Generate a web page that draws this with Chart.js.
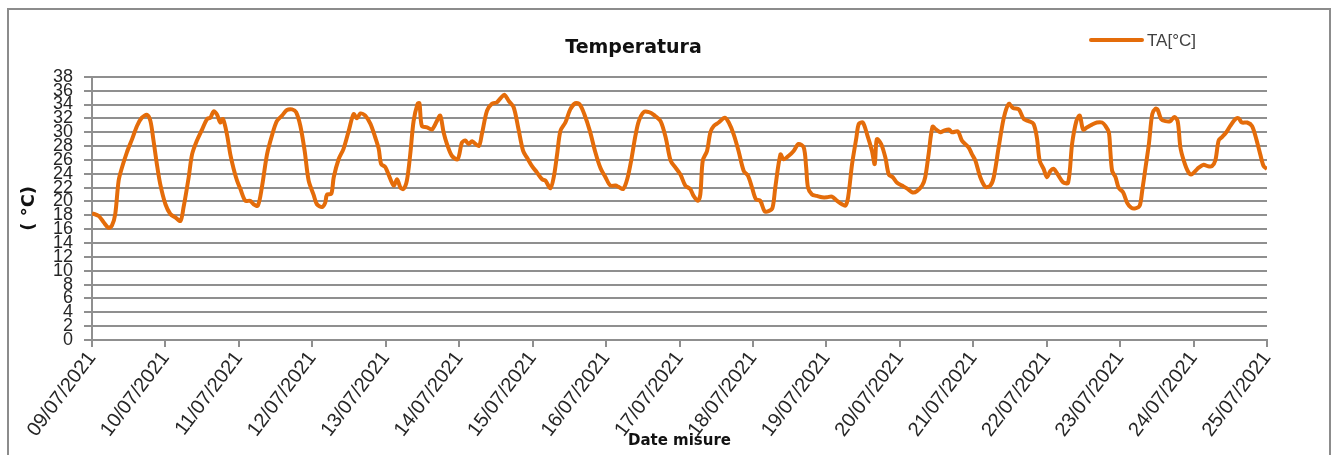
<!DOCTYPE html>
<html>
<head>
<meta charset="utf-8">
<script src="https://cdn.jsdelivr.net/npm/chart.js@4.4.1/dist/chart.umd.min.js"></script>
<style>
html,body{margin:0;padding:0;background:#fff;overflow:hidden}
#wrap{position:relative;width:1343px;height:455px}
</style>
</head>
<body>
<div id="wrap"><canvas id="c" width="1343" height="455"></canvas></div>
<script>
// Date tick labels (one per day, every 24 h)
const dateLabels = ['09/07/2021','10/07/2021','11/07/2021','12/07/2021','13/07/2021','14/07/2021','15/07/2021','16/07/2021','17/07/2021','18/07/2021','19/07/2021','20/07/2021','21/07/2021','22/07/2021','23/07/2021','24/07/2021','25/07/2021'];

// Time of each reading, hours since 09/07/2021 00:00
const hours = [
0,2.2,3.8,5.4,6.5,7.6,8.7,9.8,11.4,13.1,14.7,16.3,18.0,19.1,20.1,21.2,22.3,24.0,25.6,27.2,28.9,29.9,31.6,32.7,34.3,36.0,37.6,38.7,39.7,40.8,41.9,42.8,44.1,45.2,46.3,47.4,48.5,50.1,51.7,52.8,54.2,55.5,57.2,58.8,60.4,62.1,63.7,65.4,66.7,68.1,69.5,70.8,72.4,73.5,75.2,76.2,76.8,78.2,79.0,80.6,82.2,83.9,85.5,86.6,87.7,89.3,91.0,92.6,93.7,
94.5,95.8,96.9,98.6,99.7,100.8,101.8,102.9,104.0,105.1,106.4,107.0,107.8,109.5,111.1,112.7,113.8,114.9,116.0,117.6,119.5,120.9,122.0,123.1,124.2,126.4,127.4,129.1,130.7,132.3,133.7,134.8,136.2,137.8,139.4,140.9,142.2,143.8,145.4,147.1,148.2,149.8,150.9,152.0,153.1,154.7,156.3,158.0,159.4,160.9,162.7,164.5,166.1,167.8,169.4,171.1,172.1,173.6,174.9,176.2,177.6,178.7,180.3,182.0,183.6,185.8,187.5,189.1,190.7,
192.3,193.9,195.5,196.6,198.0,198.8,199.6,201.0,202.1,203.2,204.8,206.8,208.1,209.7,211.3,213.0,214.4,215.7,217.0,218.4,219.8,221.1,222.4,223.3,225.0,226.0,227.7,229.3,230.9,232.6,233.4,234.0,235.3,236.9,238.6,240.2,241.8,243.5,245.1,246.2,247.1,248.4,249.8,250.6,251.9,253.3,254.9,255.8,256.5,257.9,259.3,260.4,261.7,263.1,264.7,266.3,268.2,269.6,271.3,272.3,273.4,274.7,275.8,277.3,278.3,280.0,281.1,283.0,284.3,286.5,287.6,
288.7,290.3,292.0,293.6,294.7,296.3,298.0,299.6,301.0,302.9,304.5,306.1,307.7,308.8,309.7,311.0,312.1,313.2,314.3,315.6,317.3,319.0,320.3,321.7,322.8,323.9,325.2,326.8,328.4,330.1,331.2,332.3,332.8,333.4,334.5,335.5,337.0,338.3,339.6,341.0,342.4,343.2,344.3,345.4,346.5,347.6,348.3,349.4,350.8,352.4,353.7,354.8,355.7,356.8,358.1,359.2,360.6,361.7,363.3,364.6,366.0,367.1,368.2,369.3,370.7,372.0,373.7,374.7,375.8,377.5,379.1,380.5,381.8,382.9,384.0
];

// Air temperature TA [°C]
const temps = [
18.3,17.9,17.0,16.2,16.5,18.2,23.0,24.9,27.1,29.0,30.9,32.1,32.5,31.6,28.8,25.4,22.5,19.6,18.2,17.7,17.2,19.1,23.5,26.8,28.8,30.4,31.9,32.1,33.0,32.6,31.4,31.9,29.7,26.8,24.7,23.0,21.8,20.1,20.1,19.6,19.4,22.0,26.8,29.5,31.6,32.4,33.2,33.3,32.9,30.9,27.3,23.0,21.0,19.6,19.2,19.8,21.0,21.1,23.5,26.1,27.6,30.2,32.6,32.0,32.7,32.4,31.2,29.2,27.6,
25.4,25.0,23.9,22.3,23.2,22.0,21.8,23.0,26.8,31.6,34.1,34.2,30.9,30.7,30.4,31.6,32.4,30.0,28.3,26.6,26.1,28.5,28.8,28.3,28.7,28.0,29.7,33.1,34.1,34.3,35.0,35.4,34.5,33.6,30.4,27.3,26.3,25.1,24.2,23.2,23.0,21.9,23.5,26.8,30.2,31.4,33.3,34.2,34.0,32.6,30.2,27.1,24.9,23.5,22.3,22.3,22.1,21.8,23.2,25.9,29.5,31.6,32.9,32.9,32.5,31.6,29.2,25.9,24.9,
23.9,22.3,21.8,20.8,20.1,21.0,25.9,27.3,30.0,30.9,31.4,32.1,31.4,29.7,27.3,24.4,23.7,22.0,20.3,20.1,18.6,18.6,19.1,22.0,26.8,26.1,26.6,27.3,28.3,27.8,24.9,22.0,21.0,20.8,20.6,20.6,20.7,20.1,19.6,19.4,20.6,25.4,29.2,31.2,31.4,29.7,27.3,25.4,29.0,28.3,26.3,23.9,23.5,22.7,22.3,21.9,21.3,21.5,22.3,23.5,26.8,30.8,30.4,30.0,30.2,30.4,30.0,30.1,28.8,27.8,26.8,
25.9,23.5,22.1,22.3,23.5,27.8,32.1,34.1,33.5,33.3,31.9,31.6,31.2,29.2,25.9,24.7,23.5,24.4,24.7,23.9,22.8,22.7,28.3,31.6,32.4,30.4,30.7,31.1,31.4,31.4,30.9,30.0,27.3,24.4,23.5,22.0,21.3,19.8,19.1,19.0,19.4,21.5,24.9,28.3,32.6,33.4,33.2,31.9,31.6,31.6,32.2,31.6,27.8,25.9,24.4,23.9,24.4,24.9,25.3,25.1,25.1,25.9,28.8,29.3,30.0,30.9,31.9,32.0,31.4,31.4,30.9,29.0,26.8,25.1,24.7
];

const seriesLabel = 'TA[°C]';
const lineColor = 'rgb(228,108,10)';
const gridColor = '#8f8f8f';

const points = hours.map((h, i) => ({x: h, y: temps[i]}));

const frame = {
  id: 'frame',
  beforeDraw(chart) {
    const ctx = chart.ctx;
    ctx.save();
    ctx.fillStyle = '#fff';
    ctx.fillRect(0, 0, chart.width, chart.height);
    ctx.strokeStyle = '#8c8c8c';
    ctx.lineWidth = 2;
    ctx.strokeRect(8, 9, 1322, 480);
    ctx.restore();
  }
};

const sideLegend = {
  id: 'sideLegend',
  afterDraw(chart) {
    const ctx = chart.ctx;
    const ds = chart.data.datasets[0];
    ctx.save();
    ctx.strokeStyle = ds.borderColor;
    ctx.lineWidth = 4;
    ctx.lineCap = 'round';
    ctx.beginPath();
    ctx.moveTo(1091, 40);
    ctx.lineTo(1142, 40);
    ctx.stroke();
    ctx.fillStyle = '#404040';
    ctx.font = '17px "Liberation Sans"';
    ctx.textBaseline = 'middle';
    ctx.textAlign = 'left';
    ctx.fillText(ds.label, 1147, 41);
    ctx.restore();
  }
};

new Chart(document.getElementById('c'), {
  type: 'line',
  data: {
    datasets: [{
      label: seriesLabel,
      data: points,
      borderColor: lineColor,
      backgroundColor: lineColor,
      borderWidth: 4,
      pointRadius: 0,
      tension: 0.3,
      fill: false
    }]
  },
  options: {
    responsive: false,
    animation: false,
    events: [],
    layout: {padding: {left: 0, right: 76, top: 0, bottom: 0}},
    plugins: {
      legend: {display: false},
      tooltip: {enabled: false},
      title: {
        display: true,
        text: 'Temperatura',
        color: '#111',
        font: {family: 'DejaVu Sans', size: 19, weight: 'bold'},
        padding: {top: 37, bottom: 17}
      }
    },
    scales: {
      x: {
        type: 'linear',
        min: 0,
        max: 384,
        ticks: {
          stepSize: 24,
          autoSkip: false,
          minRotation: 53,
          maxRotation: 53,
          padding: 0,
          color: '#262626',
          font: {family: 'Liberation Sans', size: 20},
          callback: (v) => dateLabels[Math.round(v / 24)]
        },
        grid: {drawOnChartArea: false, drawTicks: true, tickLength: 7, color: gridColor, lineWidth: 2},
        border: {color: gridColor, width: 2},
        title: {
          display: true,
          text: 'Date misure',
          color: '#111',
          font: {family: 'DejaVu Sans', size: 15, weight: 'bold'},
          padding: {top: 0, bottom: 5}
        },
        afterFit: (s) => { s.height = 115; }
      },
      y: {
        min: 0,
        max: 38,
        ticks: {
          stepSize: 2,
          autoSkip: false,
          padding: 11,
          color: '#262626',
          font: {family: 'Liberation Sans', size: 18}
        },
        grid: {color: gridColor, lineWidth: 2, tickLength: 8},
        border: {color: gridColor, width: 2},
        title: {
          display: true,
          text: '( °C)',
          color: '#111',
          font: {family: 'DejaVu Sans', size: 18, weight: 'bold'},
          padding: {top: 19, bottom: 0}
        },
        afterFit: (s) => { s.width = 92; }
      }
    }
  },
  plugins: [frame, sideLegend]
});
</script>
</body>
</html>
